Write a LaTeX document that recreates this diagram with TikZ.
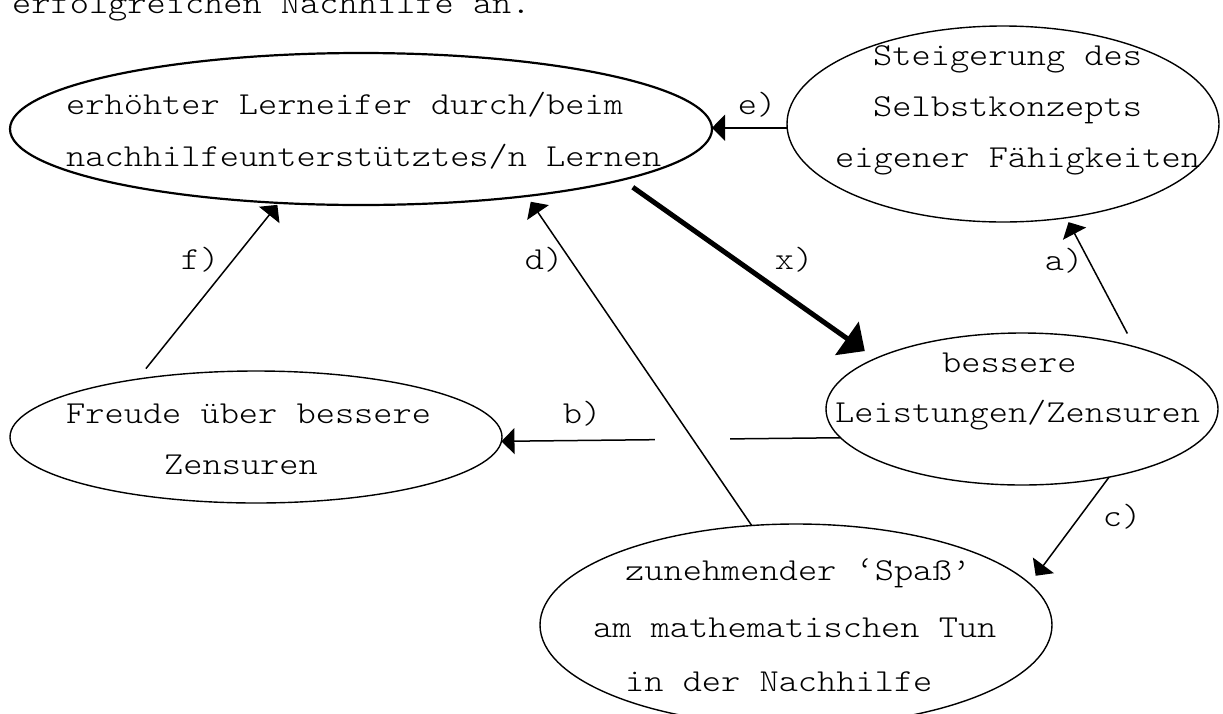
\documentclass[tikz,border=0pt]{standalone}
\usepackage{fontspec}
\setmainfont{lmmonolt10-regular.otf}[FakeStretch=1.143]
\usetikzlibrary{arrows.meta,shapes.geometric}
\begin{document}
\begin{tikzpicture}[x=1pt,y=-1pt,
  bub/.style={draw, ellipse, inner sep=0pt, outer sep=0pt, line width=1.4pt},
  txt/.style={anchor=base west, inner sep=0pt, font=\fontsize{32}{38}\selectfont},
  lab/.style={anchor=base, inner sep=0pt, font=\fontsize{32}{38}\selectfont},
  arr/.style={line width=1.5pt, -{Triangle[length=13pt,width=26pt]}},
  xarr/.style={line width=5pt, -{Triangle[length=22pt,width=40pt]}},
]
\useasboundingbox (0,0) rectangle (1223,713);

% ellipses
\node[bub, line width=2.2pt, minimum width=702pt, minimum height=152pt] (ler) at (361,129) {};
\node[bub, minimum width=432pt, minimum height=196pt] (sst) at (1003,124) {};
\node[bub, minimum width=392pt, minimum height=152pt] (bes) at (1022,409) {};
\node[bub, minimum width=492pt, minimum height=132pt] (fre) at (256,437) {};
\node[bub, minimum width=512pt, minimum height=202pt] (spa) at (796,625) {};

% texts
\node[txt] (top) at (12,13) {erfolgreichen Nachhilfe an.};
\node[txt] (ler1) at (66,114) {erhöhter Lerneifer durch/beim};
\node[txt] (ler2) at (66,166) {nachhilfeunterstütztes/n Lernen};
\node[txt] (sst1) at (873,65) {Steigerung des};
\node[txt] (sst2) at (873,116) {Selbstkonzepts};
\node[txt] (sst3) at (835,167) {eigener Fähigkeiten};
\node[txt] (bes1) at (942,372) {bessere};
\node[txt] (bes2) at (835,422) {Leistungen/Zensuren};
\node[txt] (fre1) at (66,423) {Freude über bessere};
\node[txt] (fre2) at (164,474) {Zensuren};
\node[txt] (spa1) at (625,580) {zunehmender ‘Spaß’};
\node[txt] (spa2) at (593,637) {am mathematischen Tun};
\node[txt] (spa3) at (625,691) {in der Nachhilfe};

% connectors
\draw[arr] (sst.181) -- (sst.181 -| ler.east);
\draw[xarr, shorten <=13pt, shorten >=13pt] (ler.349.2) -- (bes.161.5);
\draw[arr, shorten <=15pt, shorten >=5pt] (bes.29) -- (sst.304.7);
\draw[arr] (bes.189.8) -- (fre.359.3);
\fill[white] (655,433) rectangle (730,447);
\draw[arr, shorten >=10pt] (bes.322.3) -- (spa.10.94);
\draw[arr, shorten >=7pt] (spa.114.8) -- (ler.338.8);
\draw[arr, shorten <=13.5pt, shorten >=2.5pt] (fre.154.65) -- (ler.222.3);

% labels
\node[lab] (le) at (757,114) {e)};
\node[lab] (lx) at (794,269) {x)};
\node[lab] (ld) at (544,269) {d)};
\node[lab] (lf) at (200,269) {f)};
\node[lab] (la) at (1064,270) {a)};
\node[lab] (lb) at (582,423) {b)};
\node[lab] (lc) at (1122,526) {c)};
\end{tikzpicture}
\end{document}
